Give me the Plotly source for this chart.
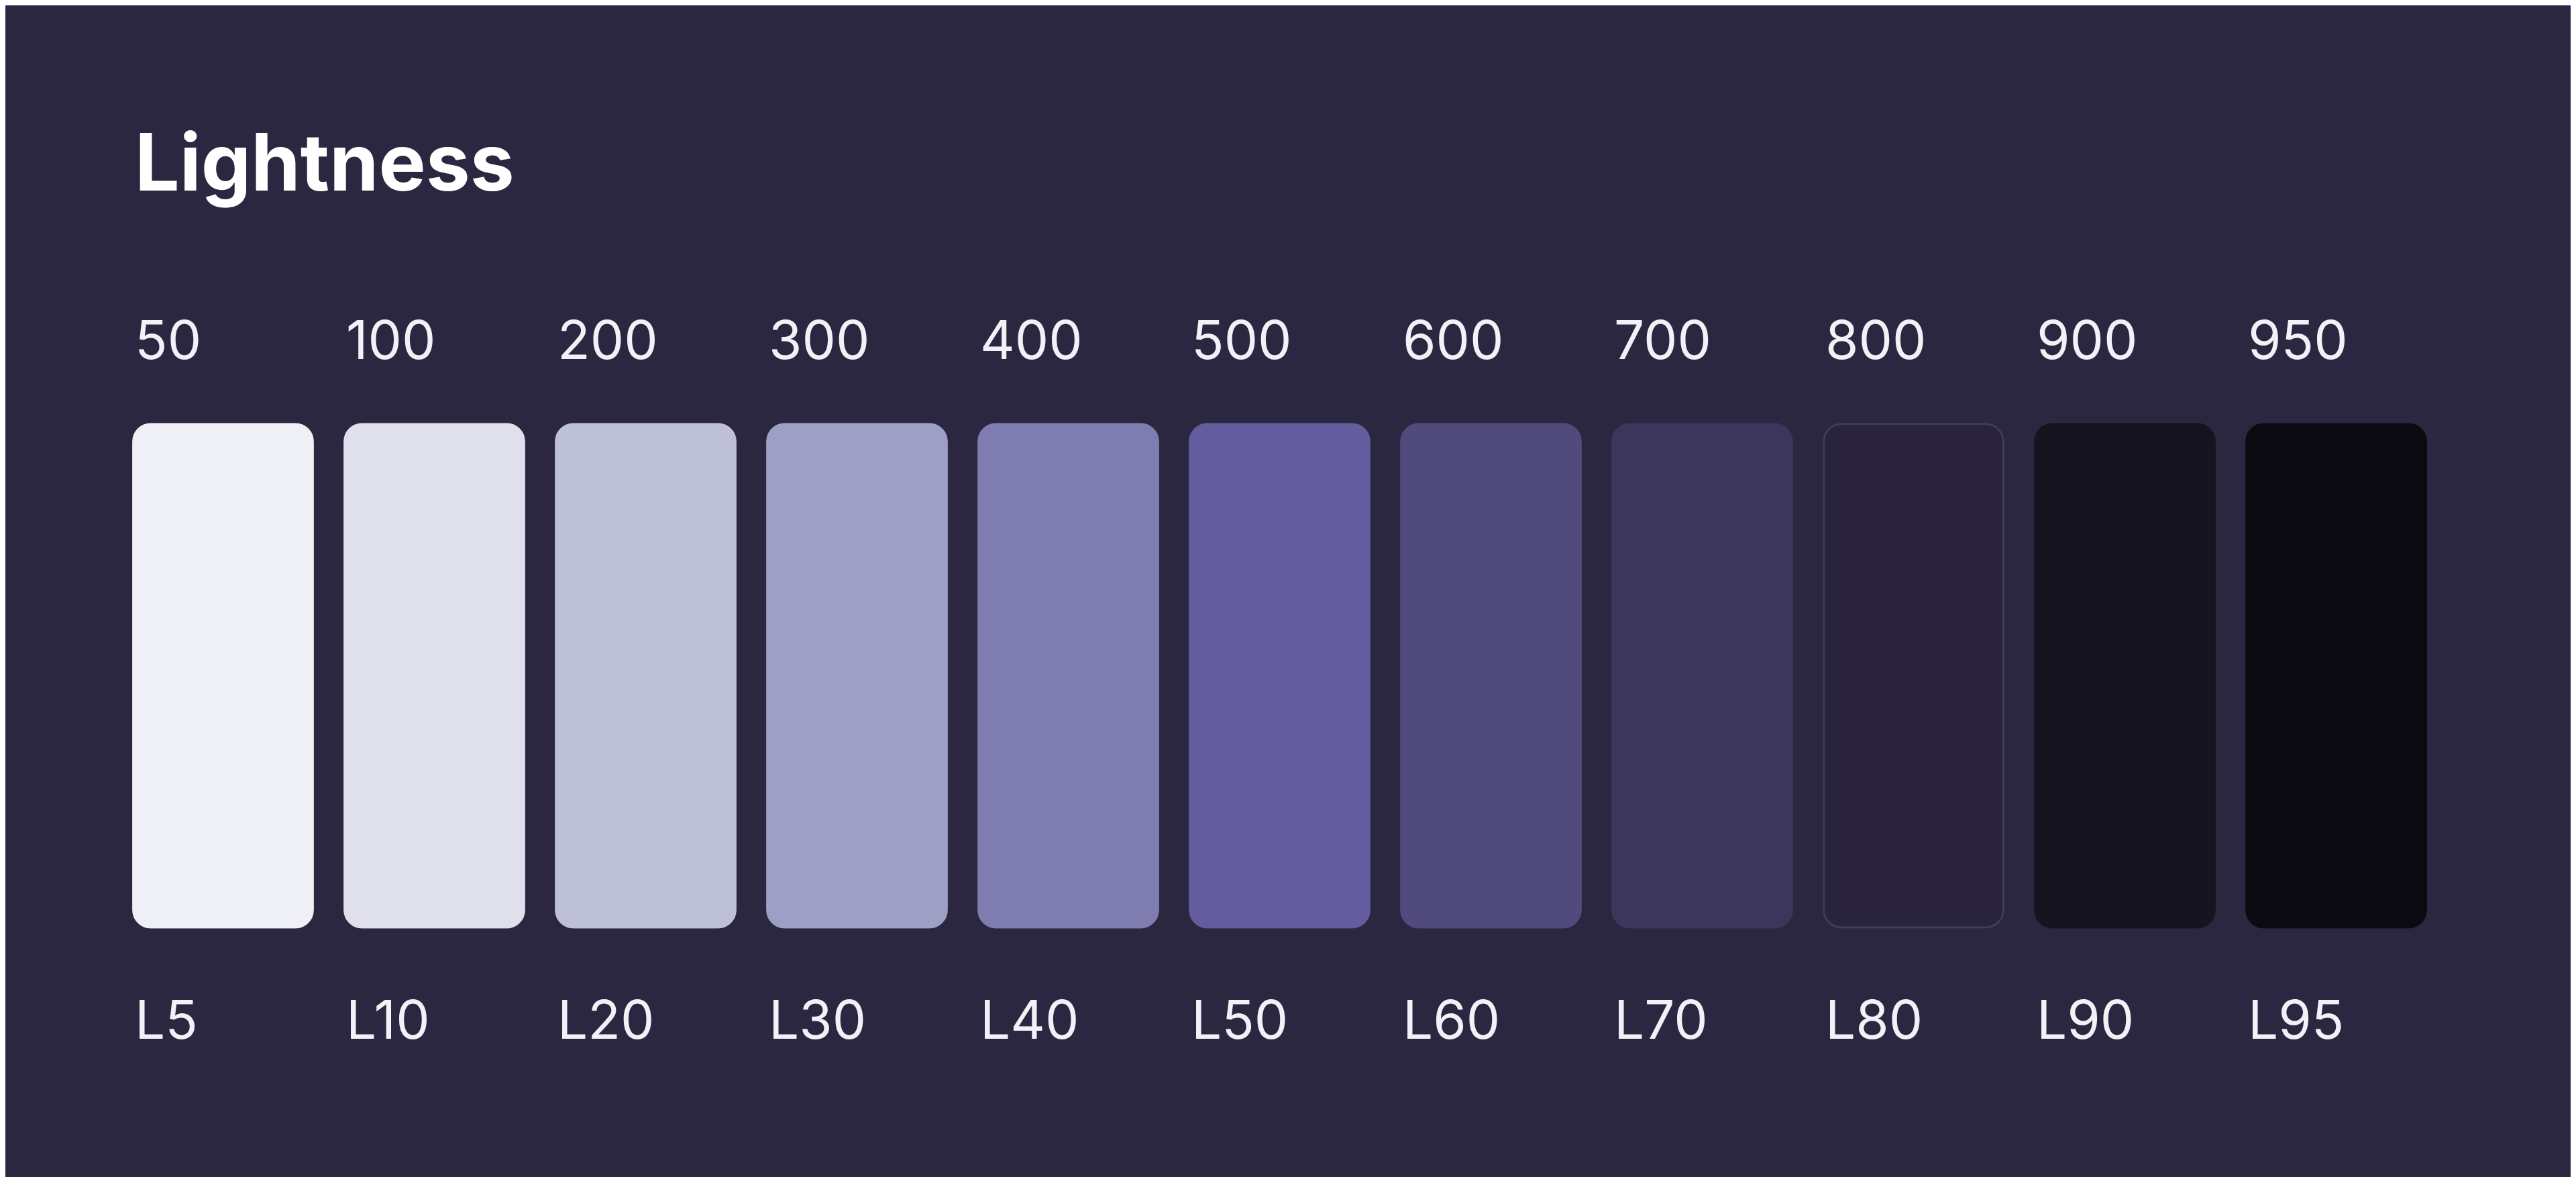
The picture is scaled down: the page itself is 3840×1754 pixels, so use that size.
import plotly.graph_objects as go

steps = ["50", "100", "200", "300", "400", "500", "600", "700", "800", "900", "950"]
lightness = ["L5", "L10", "L20", "L30", "L40", "L50", "L60", "L70", "L80", "L90", "L95"]
colors = ["#eff0f5", "#dfe0ec", "#bec0d8", "#9d9fc5", "#7f7db0", "#635c9f",
          "#514a7d", "#3c365d", "#29243b", "#16141f", "#0b0a10"]
title = "Lightness"

BG = "#2b2740"
n = len(steps)
xs = list(range(n))
bw = 0.85
top, bottom = 624, 1374
line_colors = [("#403b58" if s == "800" else c) for s, c in zip(steps, colors)]

fig = go.Figure(go.Bar(
    x=xs, y=[bottom - top] * n, base=[top] * n, width=bw,
    marker=dict(color=colors, cornerradius=26,
                line=dict(color=line_colors, width=3)),
    hoverinfo="skip", showlegend=False,
))

ann = []
for i in xs:
    ann.append(dict(x=i - bw / 2, y=497, text=steps[i], xanchor="left", yanchor="middle",
                    showarrow=False, font=dict(size=80, color="#f2f1f7", family="Inter")))
    ann.append(dict(x=i - bw / 2, y=1510, text=lightness[i], xanchor="left", yanchor="middle",
                    showarrow=False, font=dict(size=80, color="#f2f1f7", family="Inter")))
ann.append(dict(x=-bw / 2, y=233, text="<b>" + title + "</b>", xanchor="left", yanchor="middle",
                showarrow=False, font=dict(size=118, color="#ffffff", family="Inter")))

x0 = -324.5 / 315
fig.update_layout(
    width=3840, height=1754, margin=dict(l=0, r=0, t=0, b=0),
    paper_bgcolor=BG, plot_bgcolor=BG, annotations=ann,
    xaxis=dict(range=[x0, x0 + 3840 / 315], visible=False, fixedrange=True),
    yaxis=dict(range=[1754, 0], visible=False, fixedrange=True),
)
fig.write_html("out.html", config={"displayModeBar": False})
